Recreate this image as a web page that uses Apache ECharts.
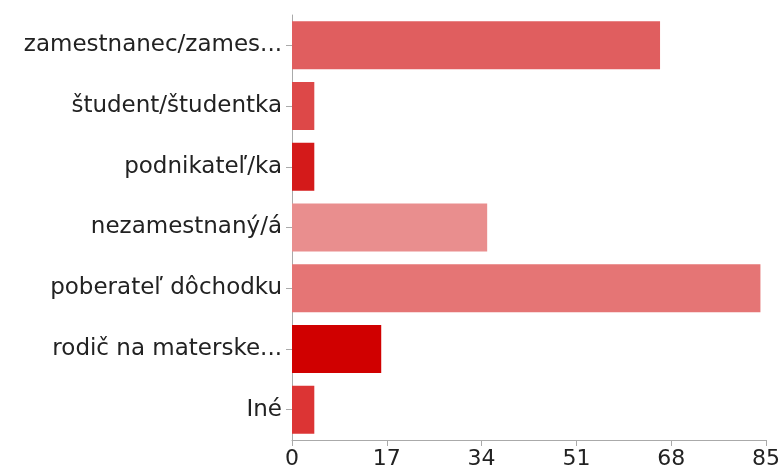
<!DOCTYPE html>
<html>
<head>
<meta charset="utf-8">
<script src="https://cdn.jsdelivr.net/npm/echarts@6/dist/echarts.min.js"></script>
<style>
  html, body { margin: 0; padding: 0; background: #fff; }
  #chart { width: 784px; height: 471px; }
</style>
</head>
<body>
<div id="chart"></div>
<script>
  const categories = [
    'zamestnanec/zames...',
    'študent/študentka',
    'podnikateľ/ka',
    'nezamestnaný/á',
    'poberateľ dôchodku',
    'rodič na materske...',
    'Iné'
  ]
  const values = [66, 4, 4, 35, 84, 16, 4]
  const barColors = ['#e05e5f', '#dd4848', '#d41a1a', '#e98e8e', '#e57575', '#d00000', '#dc3434']
  const xTicks = [0, 17, 34, 51, 68, 85]

  const chart = echarts.init(document.getElementById('chart'))
  chart.setOption({
    animation: false,
    textStyle: { fontFamily: 'DejaVu Sans, sans-serif' },
    grid: { left: 292, right: 18, top: 15, bottom: 31, containLabel: false },
    xAxis: {
      type: 'value',
      min: xTicks[0],
      max: xTicks[xTicks.length - 1],
      interval: 17,
      axisLine: { show: true, lineStyle: { color: '#aaaaaa', width: 1 } },
      axisTick: { show: true, length: 6, lineStyle: { color: '#aaaaaa' } },
      splitLine: { show: false },
      axisLabel: { color: '#222', fontSize: 22, margin: 8 }
    },
    yAxis: {
      type: 'category',
      inverse: true,
      data: categories,
      axisLine: { show: true, lineStyle: { color: '#aaaaaa', width: 1 } },
      axisTick: { show: true, alignWithLabel: true, length: 6, lineStyle: { color: '#aaaaaa' } },
      axisLabel: { color: '#222', fontSize: 23, margin: 10 }
    },
    series: [{
      type: 'bar',
      barWidth: 48,
      data: values.map((v, i) => ({ value: v, itemStyle: { color: barColors[i] } }))
    }]
  })
</script>
</body>
</html>
